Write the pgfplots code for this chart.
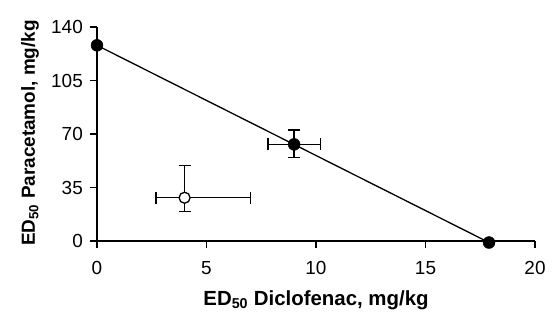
\documentclass[border=0pt]{standalone}
\usepackage{pgfplots}
\pgfplotsset{compat=1.18}
\usepackage{fontspec}
\setmainfont{Liberation Sans}
\begin{document}
\begin{tikzpicture}
\path[use as bounding box] (-97bp,-72bp) rectangle (458bp,241bp);
\begin{axis}[
  at={(0,0)}, anchor=south west,
  scale only axis, width=438bp, height=214bp,
  xmin=0, xmax=20, ymin=0, ymax=140,
  axis x line*=bottom, axis y line*=left,
  axis line style={line width=1.2bp, -},
  xtick={0,5,10,15,20}, ytick={0,35,70,105,140},
  tick align=outside, major tick length=7bp,
  tick style={line width=1.2bp, black},
  /pgf/number format/assume math mode=true,
  ticklabel style={font=\fontsize{19}{22}\selectfont},
  xticklabel style={inner sep=2bp, yshift=-11bp},
  yticklabel style={inner sep=7bp},
  xlabel={\textbf{ED\textsubscript{50} Diclofenac, mg/kg}},
  ylabel={\textbf{ED\textsubscript{50} Paracetamol, mg/kg}},
  xlabel style={font=\fontsize{20.5}{24}\selectfont, at={(axis description cs:0.5,-0.2991)}, anchor=base},
  ylabel style={font=\fontsize{19}{22}\selectfont, at={(axis description cs:-0.1416,0.505)}, anchor=base},
  clip=false,
]
\addplot[black, line width=1.3bp, no marks] coordinates {(0,128) (17.9,-1)};
\addplot[only marks, mark=*, mark size=6bp, mark options={fill=black, draw=black},
  error bars/.cd, x dir=both, y dir=both, x explicit, y explicit,
  error bar style={line width=1.4bp, black},
  error mark options={rotate=90, mark size=6bp, line width=1.4bp, black}]
  coordinates {(0,128) (9.0,63.2) += (1.2,9.4) -= (1.2,8.5) (17.9,-1)};
\addplot[only marks, mark=*, mark size=5.5bp, mark options={fill=white, draw=black, line width=1.3bp},
  error bars/.cd, x dir=both, y dir=both, x explicit, y explicit,
  error bar style={line width=1.4bp, black},
  error mark options={rotate=90, mark size=6bp, line width=1.4bp, black}]
  coordinates {(4.0,28.3) += (3.0,21) -= (1.3,9.1)};
\end{axis}
\end{tikzpicture}
\end{document}
